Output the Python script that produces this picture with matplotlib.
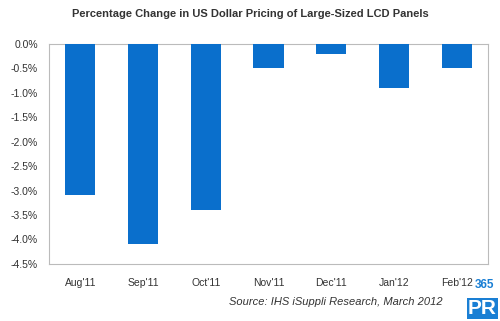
import matplotlib
matplotlib.use("Agg")
import matplotlib.pyplot as plt
from matplotlib.ticker import FuncFormatter

months = ["Aug'11", "Sep'11", "Oct'11", "Nov'11", "Dec'11", "Jan'12", "Feb'12"]
changes = [-3.1, -4.1, -3.4, -0.5, -0.2, -0.9, -0.5]
yticks = [0.0, -0.5, -1.0, -1.5, -2.0, -2.5, -3.0, -3.5, -4.0, -4.5]

plt.rcParams['font.family'] = ['Liberation Sans', 'DejaVu Sans']

fig = plt.figure(figsize=(5.0, 3.21), dpi=100)
ax = fig.add_axes([0.098, 0.178, 0.878, 0.685])
x = range(len(months))
ax.bar(x, changes, width=0.48, color='#0a6fcc', zorder=3)
ax.set_xlim(-0.5, len(months) - 0.5)
ax.set_ylim(-4.5, 0.0)
ax.set_yticks(yticks)
ax.yaxis.set_major_formatter(FuncFormatter(lambda v, p: f"{v:.1f}%"))
ax.set_xticks(list(x))
ax.set_xticklabels(months)
ax.tick_params(axis='both', length=0, labelsize=7.5, colors='#333333')
ax.tick_params(axis='x', pad=10)
ax.tick_params(axis='y', pad=8)
for s in ax.spines.values():
    s.set_color('#bbbbbb')
    s.set_linewidth(0.8)

fig.text(0.5, 0.955, "Percentage Change in US Dollar Pricing of Large-Sized LCD Panels",
         ha='center', va='center', fontsize=8, fontweight='bold', color='#333333')
fig.text(0.886, 0.058, "Source: IHS iSuppli Research, March 2012", ha='right', va='center',
         fontsize=8, style='italic', color='#333333')
fig.text(0.97, 0.112, "365", ha='center', va='center', fontsize=8.5, fontweight='bold', color='#1a7fd4')
fig.text(0.965, 0.04, "PR", ha='center', va='center', fontsize=15, fontweight='bold', color='white',
         bbox=dict(boxstyle='square,pad=0.05', fc='#1a7fd4', ec='none'))

fig.savefig("out.png", dpi=100)
